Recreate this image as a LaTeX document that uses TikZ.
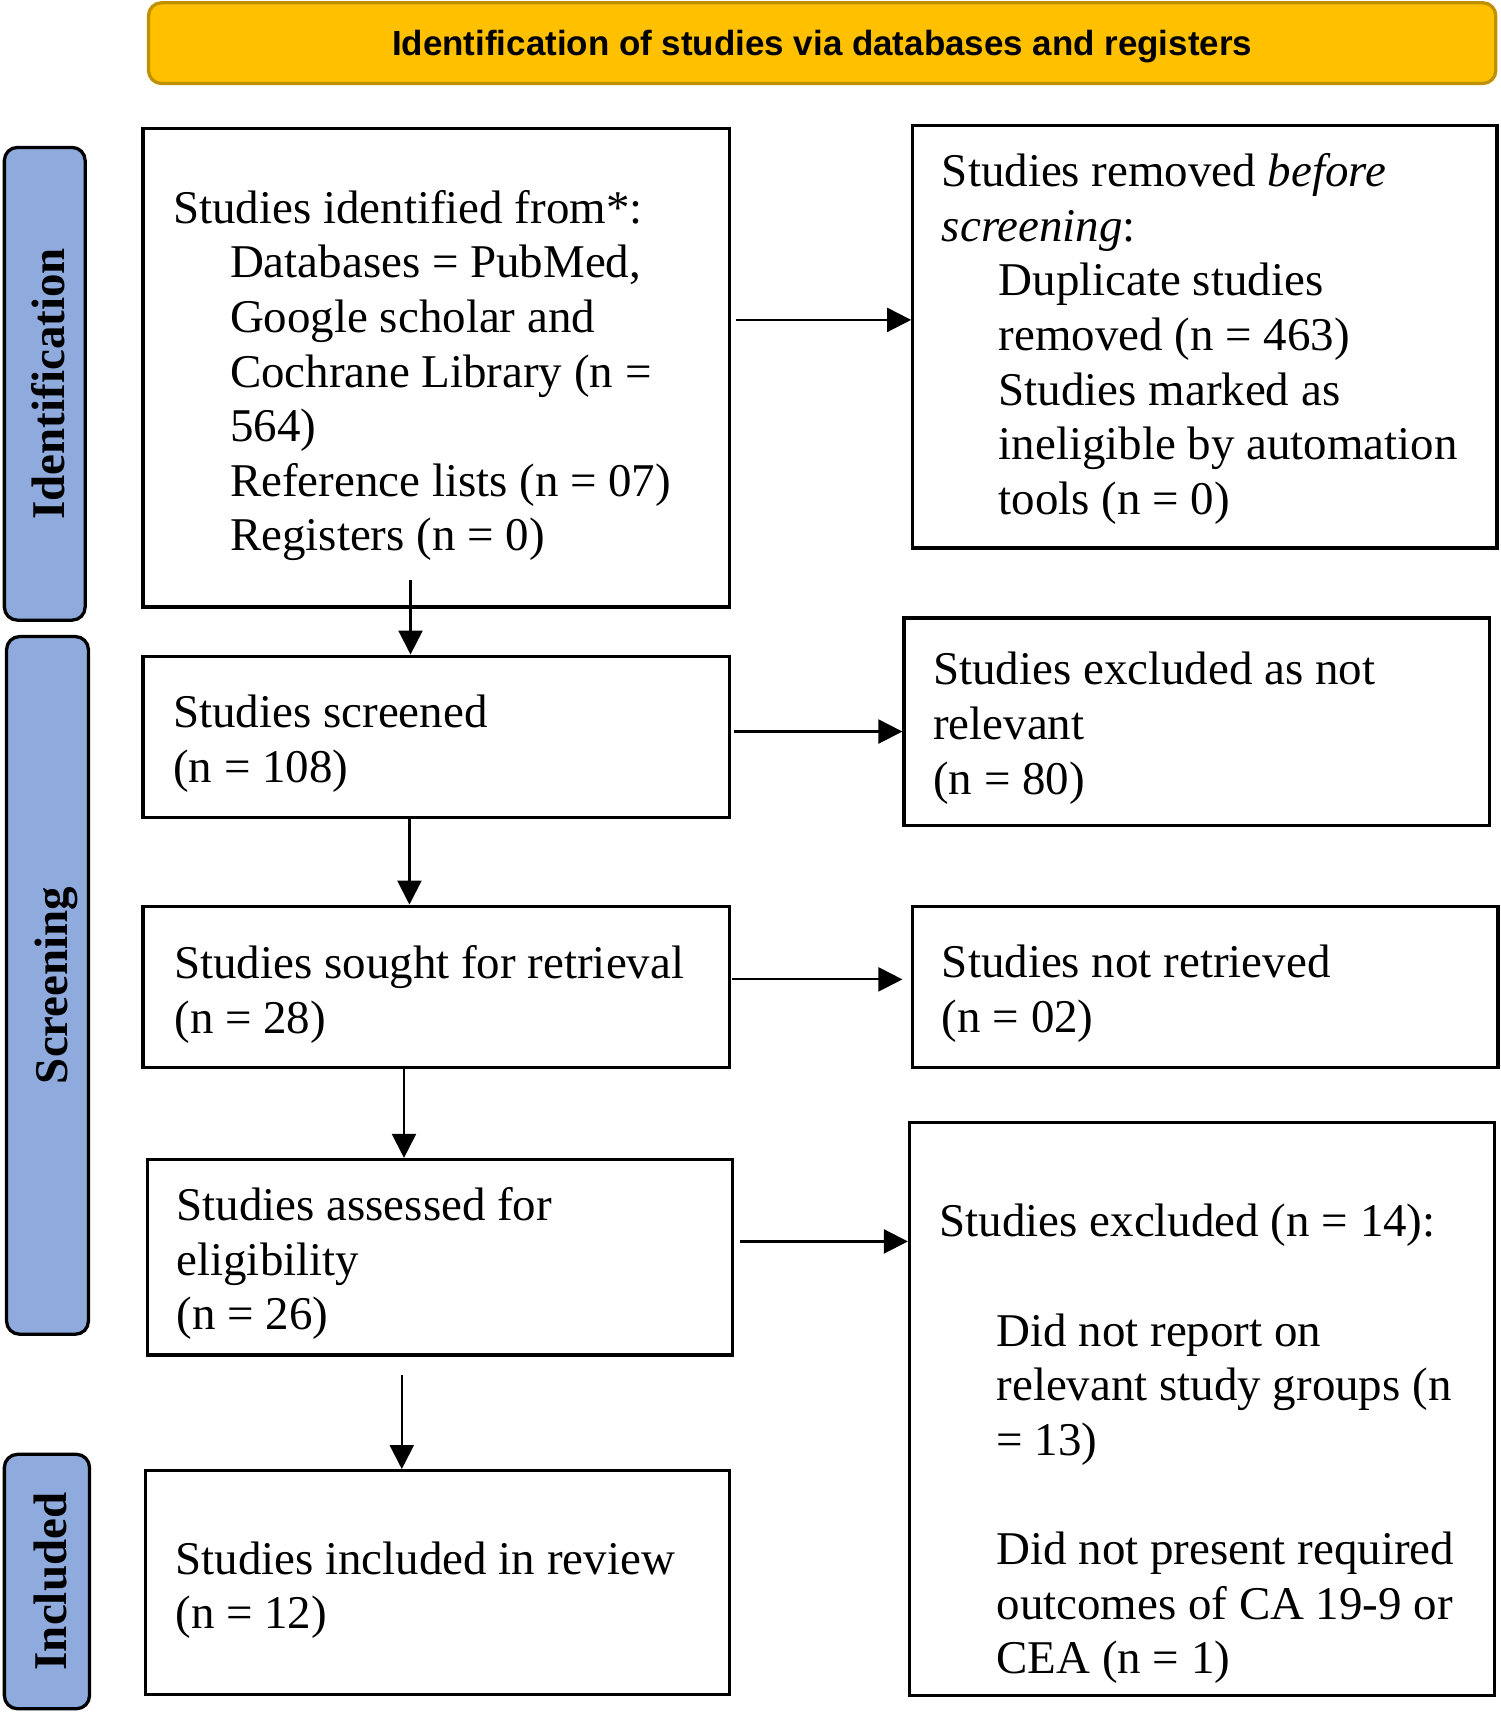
\documentclass[tikz,border=0pt]{standalone}
\usepackage{fontspec}
\setmainfont{Liberation Serif}
\newfontfamily\headfont{Liberation Sans}
\usetikzlibrary{arrows.meta}

\definecolor{headfill}{HTML}{FFC000}
\definecolor{headdraw}{HTML}{BF9000}
\definecolor{phasefill}{HTML}{8FAADC}

\tikzset{
  stagebox/.style={draw, line width=3pt, inner sep=0pt},
  phase/.style={draw, line width=3pt, fill=phasefill, rounded corners=12pt, rotate=90, inner sep=0pt,
    text height=36pt, text depth=0pt, font=\fontsize{43}{50}\selectfont\bfseries},
  txt/.style={anchor=west, align=left, inner sep=0pt, font=\fontsize{43}{50}\selectfont},
  arr/.style={line width=2pt, -{Triangle[length=22pt,width=22pt]}}
}

\newcommand{\ind}{\hspace*{52pt}}

\begin{document}
\begin{tikzpicture}[x=1pt, y=-1pt]

\useasboundingbox (0,0) rectangle (1374,1568);

% Header
\node [draw=headdraw, fill=headfill, line width=3pt, rounded corners=12pt, minimum width=1234pt, minimum height=74pt,
  text depth=0pt, font=\fontsize{32}{38}\selectfont\headfont\bfseries] (head) at (753,39.5) {Identification of studies via databases and registers};

% Phases
\node [phase, minimum width=433pt, minimum height=74pt] (idphase) at (41,351.5) {Identification};
\node [phase, minimum width=639pt, minimum height=75pt] (scphase) at (43.5,902.5) {Screening};
\node [phase, minimum width=233pt, minimum height=78pt] (inphase) at (43,1448.5) {Included};

% Boxes
\node [stagebox, minimum width=537pt, minimum height=438pt] (idbox) at (399.5,337) {};
\node [stagebox, minimum width=535pt, minimum height=387pt] (rmbox) at (1103.5,308.5) {};
\node [stagebox, minimum width=537pt, minimum height=148pt] (scbox) at (399.5,675) {};
\node [stagebox, minimum width=536pt, minimum height=190pt] (nrelbox) at (1096,661) {};
\node [stagebox, minimum width=537pt, minimum height=148pt] (rtbox) at (399.5,904) {};
\node [stagebox, minimum width=536pt, minimum height=148pt] (nrtbox) at (1104,904) {};
\node [stagebox, minimum width=536pt, minimum height=179pt] (elbox) at (403,1151.5) {};
\node [stagebox, minimum width=536pt, minimum height=525pt] (exbox) at (1101,1290.5) {};
\node [stagebox, minimum width=535pt, minimum height=205pt] (inbox) at (400.5,1449.5) {};

% Texts
\node [txt] (idtext) at ([xshift=29pt,yshift=-7pt]idbox.west) {Studies identified from*:\\
  \ind Databases = PubMed,\\ \ind Google scholar and\\ \ind Cochrane Library (n =\\ \ind 564)\\
  \ind Reference lists (n = 07)\\ \ind Registers (n = 0)};
\node [txt] (rmtext) at ([xshift=28pt,yshift=-2pt]rmbox.west) {Studies removed \textit{before}\\ \textit{screening}:\\
  \ind Duplicate studies\\ \ind removed (n = 463)\\ \ind Studies marked as\\
  \ind ineligible by automation\\ \ind tools (n = 0)};
\node [txt] (sctext) at ([xshift=29pt,yshift=-6pt]scbox.west) {Studies screened\\ (n = 108)};
\node [txt] (nreltext) at ([xshift=28pt,yshift=-6pt]nrelbox.west) {Studies excluded as not\\ relevant\\ (n = 80)};
\node [txt] (rttext) at ([xshift=30pt,yshift=-7pt]rtbox.west) {Studies sought for retrieval\\ (n = 28)};
\node [txt] (nrttext) at ([xshift=28pt,yshift=-6pt]nrtbox.west) {Studies not retrieved\\ (n = 02)};
\node [txt] (eltext) at ([xshift=28pt,yshift=-6pt]elbox.west) {Studies assessed for\\ eligibility\\ (n = 26)};
\node [txt] (extext) at ([xshift=29pt,yshift=-32pt]exbox.west) {Studies excluded (n = 14):\\[50pt]
  \ind Did not report on\\ \ind relevant study groups (n\\ \ind = 13)\\[50pt]
  \ind Did not present required\\ \ind outcomes of CA 19-9 or\\ \ind CEA (n = 1)};
\node [txt] (intext) at ([xshift=29pt,yshift=-7pt]inbox.west) {Studies included in review\\ (n = 12)};

% Arrows down
\draw [arr] ([xshift=-23.5pt,yshift=26pt]idbox.south) -- ([xshift=-23.5pt]scbox.north);
\draw [arr] ([xshift=-24.5pt]scbox.south) -- ([xshift=-24.5pt]rtbox.north);
\draw [arr] ([xshift=-29.5pt]rtbox.south) -- ([xshift=-33pt]elbox.north);
\draw [arr] ([xshift=-35pt,yshift=-17pt]elbox.south) -- ([xshift=-32.5pt]inbox.north);

% Arrows right
\draw [arr, shorten <=5pt] (idbox.east |- 0,293) -- (rmbox.west |- 0,293);
\draw [arr, shorten <=3pt] (scbox.east |- 0,670) -- (nrelbox.west |- 0,670);
\draw [arr, shorten <=1pt, shorten >=8pt] (rtbox.east |- 0,897) -- (nrtbox.west |- 0,897);
\draw [arr, shorten <=5pt] (elbox.east |- 0,1137) -- (exbox.west |- 0,1137);

\end{tikzpicture}
\end{document}
